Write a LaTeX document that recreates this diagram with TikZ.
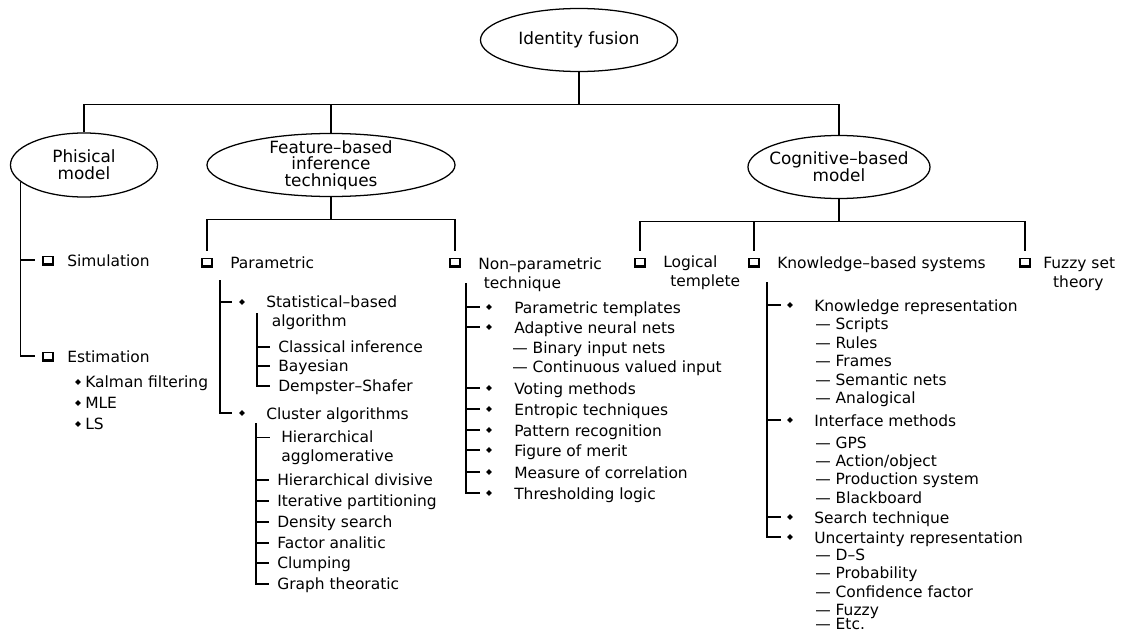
\documentclass[tikz,border=0pt]{standalone}
\usepackage{fontspec}
\setmainfont{DejaVu Sans}
\usetikzlibrary{shapes,arrows,positioning,shadows}

\begin{document}
\begin{tikzpicture}[x=0.025cm,y=-0.025cm]
  \tikzstyle{oval} = [ellipse, draw, line width=0.9pt, inner sep=0pt]
  \tikzstyle{otext} = [align=center, inner sep=0pt, font=\fontsize{12}{11.8}\selectfont]
  \tikzstyle{item} = [anchor=base west, inner sep=0pt, align=left, font=\fontsize{11}{13}\selectfont]
  \tikzstyle{sqbox} = [rectangle, draw, fill=white, line width=1.1pt, minimum width=7.2pt, minimum height=5.2pt, inner sep=0pt, copy shadow={shadow xshift=0.2pt, shadow yshift=-0.9pt, draw=black, fill=black, line width=1.1pt}]
  \tikzstyle{dot} = [diamond, fill, inner sep=0pt, minimum size=4.4pt]
  \tikzstyle{link} = [draw, line width=0.85pt]

  \useasboundingbox (0,0) rectangle (1132,631);

  % Top levels
  \node[oval, minimum width=4.925cm, minimum height=1.575cm, label={[otext]center:Identity fusion}] (idf) at (579,40) {};
  \node[oval, minimum width=3.675cm, minimum height=1.6cm, label={[otext]center:Phisical\\model}] (phys) at (84,165) {};
  \node[oval, minimum width=6.2cm, minimum height=1.575cm, label={[otext]center:Feature–based\\inference\\techniques}] (feat) at (331,165) {};
  \node[oval, minimum width=4.55cm, minimum height=1.575cm, label={[otext]center:Cognitive–based\\model}] (cog) at (839,167) {};

  \draw[link] (idf.south) -- ++(0,32) coordinate (bus);
  \draw[link] (phys.north) |- (bus) -| (cog.north);
  \draw[link] (bus -| feat.north) -- (feat.north);

  % Phisical model
  \node[sqbox] (simbox) at (48,260) {};
  \node[item] (sim) at (67,266) {Simulation};
  \node[sqbox] (estbox) at (48,356) {};
  \node[item] (est) at (67,362) {Estimation};
  \node[dot] (kdot) at (78,382) {};
  \node[item] (kal) at (85,387) {Kalman filtering};
  \node[dot] (mdot) at (78,403) {};
  \node[item] (mle) at (85,408) {MLE};
  \node[dot] (ldot) at (78,424) {};
  \node[item] (ls) at (85,429) {LS};

  \draw[link, shorten >=5pt] (phys.195) |- (simbox.west);
  \draw[link, shorten >=5pt] (phys.195) |- (estbox.west);

  % Feature-based inference
  \draw[link] (feat.south) -- ++(0,22) coordinate (fbus);
  \node[sqbox] (parbox) at (207,262) {};
  \node[item] (par) at (230,268) {Parametric};
  \node[sqbox] (npbox) at (455,262) {};
  \node[item] (np) at (478,288) {Non–parametric\\\hspace{4pt}technique};
  \draw[link, shorten <=5pt, shorten >=5pt] (parbox.north) |- (fbus) -| (npbox.north);

  % parametric
  \coordinate (ptop) at (220,280);
  \node[dot] (sdot) at (242,302) {};
  \node[item] (stat) at (266,326) {Statistical–based\\\hspace{4pt}algorithm};
  \node[dot] (cdot) at (242,413) {};
  \node[item] (clus) at (266,419) {Cluster algorithms};
  \draw[link, shorten >=5pt] (ptop) |- (sdot.west);
  \draw[link, shorten >=5pt] (ptop) |- (cdot.west);

  \coordinate (stop) at (257,313);
  \node[item] (clas) at (278,352) {Classical inference};
  \node[item] (bay) at (278,371) {Bayesian};
  \node[item] (dem) at (278,391) {Dempster–Shafer};
  \draw[link, shorten >=6pt] (stop) |- ([yshift=3.6pt]clas.base west);
  \draw[link, shorten >=6pt] (stop) |- ([yshift=3.6pt]bay.base west);
  \draw[link, shorten >=6pt] (stop) |- ([yshift=3.6pt]dem.base west);

  \coordinate (ctop) at (256,423);
  \node[item] (hag) at (281,461) {Hierarchical\\agglomerative};
  \node[item] (hdiv) at (277,485) {Hierarchical divisive};
  \node[item] (ipart) at (277,506) {Iterative partitioning};
  \node[item] (dens) at (277,527) {Density search};
  \node[item] (fact) at (277,548) {Factor analitic};
  \node[item] (clump) at (277,568) {Clumping};
  \node[item] (graph) at (277,589) {Graph theoratic};
  \draw[link, shorten >=8pt] (ctop) |- ([yshift=16.6pt]hag.base west);
  \draw[link, shorten >=6pt] (ctop) |- ([yshift=3.6pt]hdiv.base west);
  \draw[link, shorten >=6pt] (ctop) |- ([yshift=3.6pt]ipart.base west);
  \draw[link, shorten >=6pt] (ctop) |- ([yshift=3.6pt]dens.base west);
  \draw[link, shorten >=6pt] (ctop) |- ([yshift=3.6pt]fact.base west);
  \draw[link, shorten >=6pt] (ctop) |- ([yshift=3.6pt]clump.base west);
  \draw[link, shorten >=6pt] (ctop) |- ([yshift=3.6pt]graph.base west);

  % non-parametric
  \coordinate (ntop) at (466,283);
  \node[dot] (n1) at (489,307) {};
  \node[item] (ptem) at (514,313) {Parametric templates};
  \node[dot] (n2) at (489,327) {};
  \node[item] (ann) at (514,333) {Adaptive neural nets};
  \node[item] (bin) at (512,353) {— Binary input nets};
  \node[item] (cont) at (512,372) {— Continuous valued input};
  \node[dot] (n3) at (489,388) {};
  \node[item] (vote) at (514,394) {Voting methods};
  \node[dot] (n4) at (489,409) {};
  \node[item] (entr) at (514,415) {Entropic techniques};
  \node[dot] (n5) at (489,430) {};
  \node[item] (patt) at (514,436) {Pattern recognition};
  \node[dot] (n6) at (489,450) {};
  \node[item] (fom) at (514,456) {Figure of merit};
  \node[dot] (n7) at (489,472) {};
  \node[item] (corr) at (514,478) {Measure of correlation};
  \node[dot] (n8) at (489,493) {};
  \node[item] (thr) at (514,499) {Thresholding logic};
  \draw[link, shorten >=4.3pt] (ntop) |- (n1.west);
  \draw[link, shorten >=4.3pt] (ntop) |- (n2.west);
  \draw[link, shorten >=4.3pt] (ntop) |- (n3.west);
  \draw[link, shorten >=4.3pt] (ntop) |- (n4.west);
  \draw[link, shorten >=4.3pt] (ntop) |- (n5.west);
  \draw[link, shorten >=4.3pt] (ntop) |- (n6.west);
  \draw[link, shorten >=4.3pt] (ntop) |- (n7.west);
  \draw[link, shorten >=4.3pt] (ntop) |- (n8.west);

  % Cognitive-based model
  \draw[link] (cog.south) -- ++(0,22) coordinate (cbus);
  \node[sqbox] (logbox) at (640,262) {};
  \node[item] (log) at (663,286) {Logical\\\hspace{5pt}templete};
  \node[sqbox] (kbsbox) at (754,262) {};
  \node[item] (kbs) at (777,268) {Knowledge–based systems};
  \node[sqbox] (fuzbox) at (1025,262) {};
  \node[item] (fuz) at (1043,287) {Fuzzy set\\\hspace{7pt}theory};
  \draw[link, shorten <=5pt, shorten >=5pt] (logbox.north) |- (cbus) -| (fuzbox.north);
  \draw[link, shorten >=5pt] (kbsbox.north |- cbus) -- (kbsbox.north);

  % knowledge-based systems
  \coordinate (ktop) at (767,282);
  \node[dot] (k1) at (790,305) {};
  \node[item] (krep) at (814,311) {Knowledge representation};
  \node[item] (scr) at (815,329) {— Scripts};
  \node[item] (rul) at (815,348) {— Rules};
  \node[item] (frm) at (815,366) {— Frames};
  \node[item] (sem) at (815,385) {— Semantic nets};
  \node[item] (ana) at (815,403) {— Analogical};
  \node[dot] (k2) at (790,420) {};
  \node[item] (intf) at (814,426) {Interface methods};
  \node[item] (gps) at (815,448) {— GPS};
  \node[item] (act) at (815,466) {— Action/object};
  \node[item] (prod) at (815,484) {— Production system};
  \node[item] (blk) at (815,503) {— Blackboard};
  \node[dot] (k3) at (790,517) {};
  \node[item] (srch) at (814,523) {Search technique};
  \node[dot] (k4) at (790,537) {};
  \node[item] (unc) at (814,543) {Uncertainty representation};
  \node[item] (ds) at (815,560) {— D–S};
  \node[item] (prob) at (815,578) {— Probability};
  \node[item] (conf) at (815,597) {— Confidence factor};
  \node[item] (fzy) at (815,615) {— Fuzzy};
  \node[item] (etc) at (815,629) {— Etc.};
  \draw[link, shorten >=4.3pt] (ktop) |- (k1.west);
  \draw[link, shorten >=4.3pt] (ktop) |- (k2.west);
  \draw[link, shorten >=4.3pt] (ktop) |- (k3.west);
  \draw[link, shorten >=4.3pt] (ktop) |- (k4.west);
\end{tikzpicture}
\end{document}
